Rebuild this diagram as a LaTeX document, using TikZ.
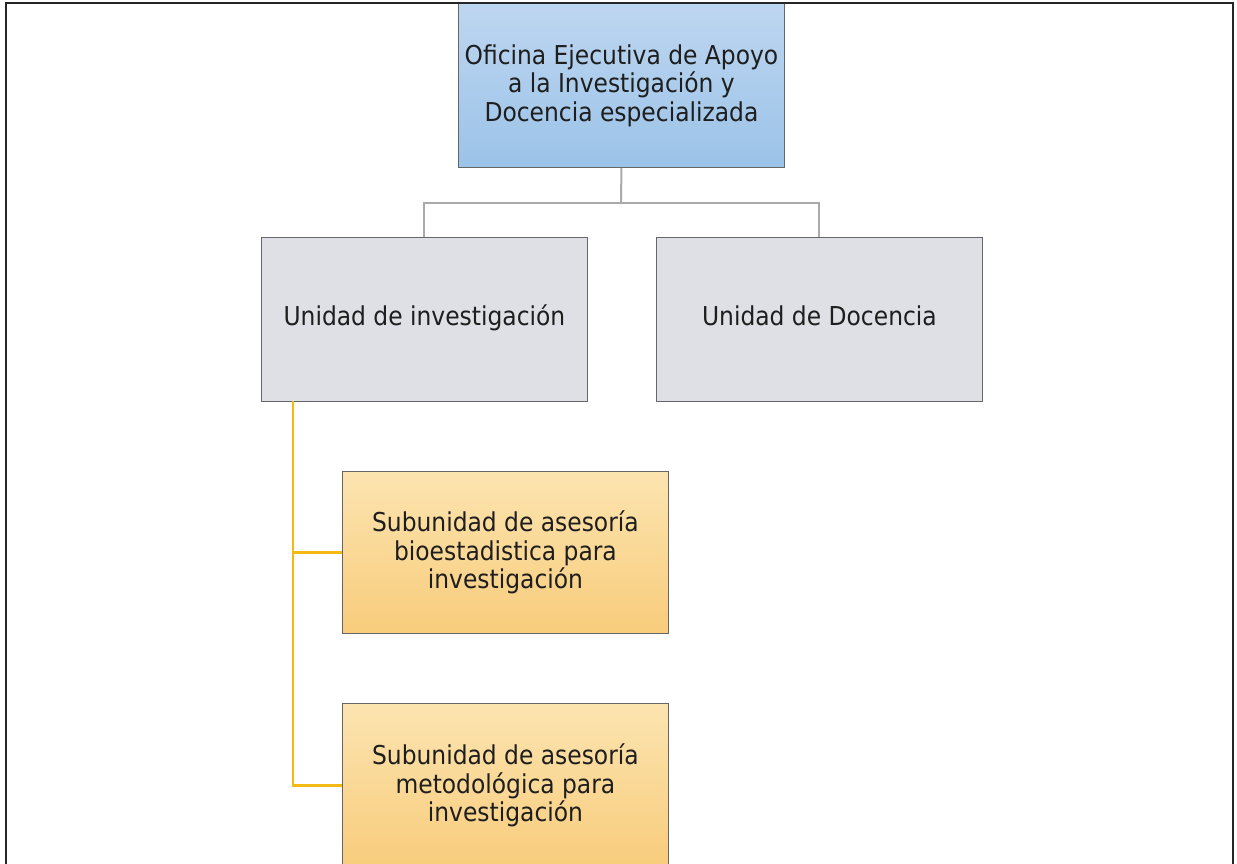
\documentclass[tikz,border=0pt]{standalone}
\usepackage{fontspec}
\setmainfont{DejaVu Sans Condensed}
\definecolor{blueTop}{RGB}{190,214,240}
\definecolor{blueBot}{RGB}{155,195,232}
\definecolor{grayFill}{RGB}{222,224,229}
\definecolor{orTop}{RGB}{252,228,176}
\definecolor{orBot}{RGB}{248,204,124}
\definecolor{orLine}{RGB}{244,186,20}
\definecolor{grLine}{RGB}{170,170,170}
\definecolor{txt}{RGB}{30,30,30}
\begin{document}
\begin{tikzpicture}[x=1pt,y=-1pt,
  box/.style={draw=black!60, line width=0.9pt, align=center, anchor=north west,
    font=\fontsize{26}{28.5}\selectfont, text=txt, inner sep=0pt,
    minimum width=326pt},
  bluebox/.style={box, top color=blueTop, bottom color=blueBot, minimum height=164pt},
  graybox/.style={box, fill=grayFill, minimum height=164pt, text height=19pt, text depth=6pt},
  orbox/.style={box, top color=orTop, bottom color=orBot, minimum height=162pt},
  grconn/.style={draw=grLine, line width=2pt},
  orconn/.style={draw=orLine, line width=2.4pt},
  frame/.style={draw=black!85, line width=1.8pt}]
\useasboundingbox (0,0) rectangle (1237,863);
\clip (0,0) rectangle (1237,863);
\node[bluebox] (top) at (458,3) {Oficina Ejecutiva de Apoyo\\a la Investigación y\\Docencia especializada};
\node[graybox] (inv) at (261,237) {Unidad de investigación};
\node[graybox] (doc) at (656,237) {Unidad de Docencia};
\node[orbox] (sub1) at (342,471) {Subunidad de asesoría\\bioestadistica para\\investigación};
\node[orbox, minimum height=164pt] (sub2) at (342,703) {Subunidad de asesoría\\metodológica para\\investigación};
\coordinate (j) at (621,203);
\coordinate (o) at (293,401);
\draw[grconn] (top.south) -- (j);
\draw[grconn] (inv.north) |- (j) -| (doc.north);
\draw[orconn] (o) |- (sub1.west);
\draw[orconn] (o) |- (sub2.west);
\draw[frame] (6,880) -- (6,3) -- (1233,3) -- (1233,880);
\end{tikzpicture}
\end{document}
